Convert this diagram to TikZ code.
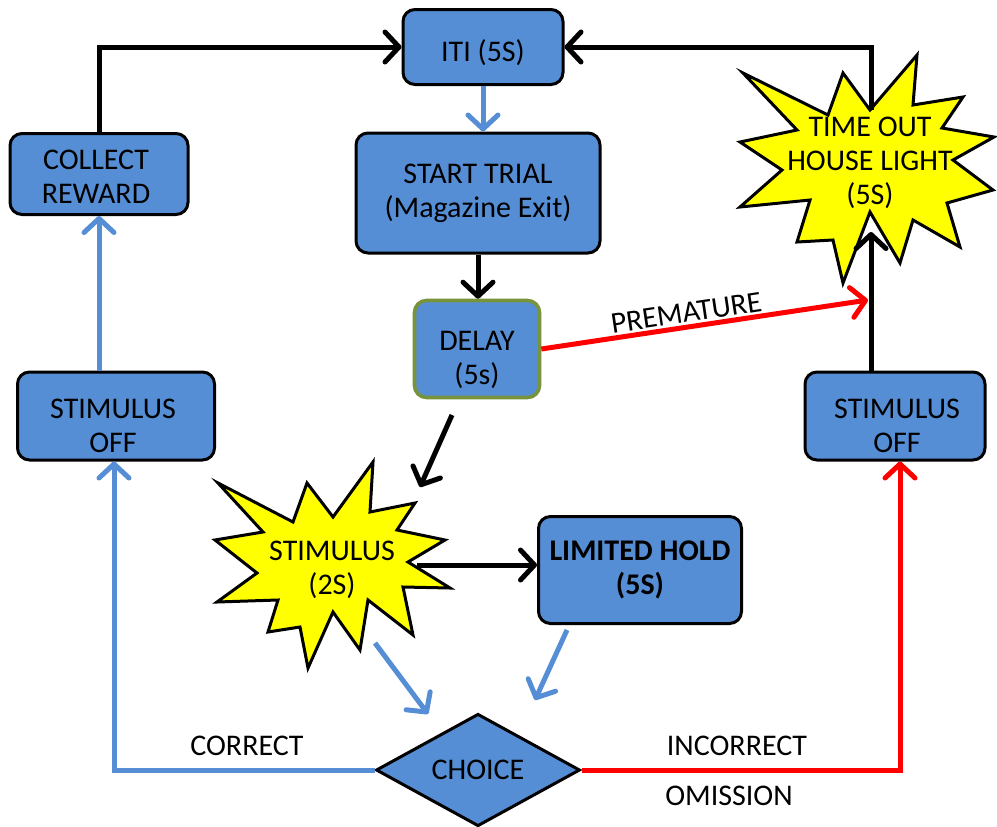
\documentclass[tikz,border=0pt]{standalone}
\usepackage{fontspec}
\setmainfont{Carlito}
\usetikzlibrary{arrows.meta,shapes.geometric}
\definecolor{boxblue}{RGB}{85,142,213}
\definecolor{delaygreen}{RGB}{119,147,60}
\definecolor{flashyellow}{RGB}{255,255,0}
\definecolor{flowred}{RGB}{255,0,0}
\begin{document}
\begin{tikzpicture}[x=0.5pt,y=-0.5pt,
  >={Straight Barb[length=7pt,width=15pt,round]},
  font=\fontsize{15}{17}\selectfont,
  box/.style={draw,line width=1.5pt,fill=boxblue,rounded corners=6pt,align=center,inner sep=0pt},
  boxtext/.style={align=center,inner sep=0pt},
  flash/.style={draw,line width=1.5pt,fill=flashyellow},
  blk/.style={line width=2.5pt,->},
  blu/.style={line width=2.5pt,->,draw=boxblue},
  rd/.style={line width=2.5pt,->,draw=flowred}]
\useasboundingbox (0,0) rectangle (997,826);
% boxes
\node[box,minimum width=80pt,minimum height=37.5pt] (iti) at (483,47) {};
\node[boxtext] (ititext) at (483,53) {ITI (5S)};
\node[box,minimum width=122pt,minimum height=60pt] (start) at (478,193) {START TRIAL\\(Magazine Exit)};
\node[box,minimum width=89pt,minimum height=40.5pt] (collect) at (99,174) {};
\node[boxtext] (collecttext) at (96,177) {COLLECT\\REWARD};
\node[box,draw=delaygreen,line width=1.8pt,minimum width=62.5pt,minimum height=48.5pt] (delay) at (477,349) {};
\node[boxtext] (delaytext) at (477,360) {DELAY\\(5s)};
\node[box,minimum width=98.5pt,minimum height=44pt] (offL) at (116,416) {};
\node[boxtext] (offLtext) at (113,426) {STIMULUS\\OFF};
\node[box,minimum width=90pt,minimum height=44pt] (offR) at (895,416) {};
\node[boxtext] (offRtext) at (897,426) {STIMULUS\\OFF};
\node[box,minimum width=101.5pt,minimum height=53.5pt,font=\fontsize{15}{17}\selectfont\bfseries] (hold) at (640,570) {LIMITED HOLD\\(5S)};
\node[diamond,draw,line width=1.5pt,fill=boxblue,inner sep=0pt,minimum width=102pt,minimum height=56pt] (choice) at (478,770) {CHOICE};
% flashes
\draw[flash] (743,73) -- (828,115) -- (843,73) -- (870,110) -- (917,55) -- (913,105)
  -- (963,97) -- (942,128) -- (994,137) -- (953,160) -- (993,190) -- (947,203)
  -- (960,247) -- (913,220) -- (900,263) -- (870,212) -- (843,283) -- (833,240)
  -- (797,242) -- (810,200) -- (740,207) -- (782,170) -- (740,142) -- (797,130) -- cycle;
\draw[flash] (218,483) -- (293,522) -- (307,483) -- (333,517) -- (373,462) -- (370,512)
  -- (415,503) -- (397,530) -- (445,540) -- (408,562) -- (450,588) -- (403,587)
  -- (413,635) -- (368,600) -- (360,650) -- (333,612) -- (308,668) -- (300,627)
  -- (268,632) -- (278,600) -- (217,602) -- (257,573) -- (215,540) -- (263,532) -- cycle;
\coordinate (toout) at (871,110);
\coordinate (toin) at (871,232);
\coordinate (premend) at (868,300);
\coordinate (d1) at (452,415);
\coordinate (d2) at (420,487);
\coordinate (s1) at (417,565);
\coordinate (s2) at (375,643);
\coordinate (c1) at (428,714);
\coordinate (h1) at (567,630);
\coordinate (c2) at (535,700);
% connectors
\draw[blk] (collect.north) |- (iti.west);
\draw[blk] (toout) |- (iti.east);
\draw[blk] (offR.north -| toin) -- (toin);
\draw[blu] (iti.south) -- (iti.south |- start.north);
\draw[blk] (start.south) -- (start.south |- delay.north);
\draw[rd] (delay.east) -- node[sloped,above,inner sep=1pt,pos=0.45]{PREMATURE} (premend);
\draw[blk] (d1) -- (d2);
\draw[blk] (s1) -- (hold.west |- s1);
\draw[blu] (s2) -- (c1);
\draw[blu] (h1) -- (c2);
\draw[blu] (choice.west) -| ([xshift=-1pt]offL.south);
\draw[rd] (choice.east) -| ([xshift=2.5pt]offR.south);
\draw[blu] (offL.north -| collect.south) -- (collect.south);
% texts
\node[align=center] (timeout) at (870,163) {TIME OUT\\HOUSE LIGHT\\(5S)};
\node[align=center] (stim) at (332,570) {STIMULUS\\(2S)};
\node (correct) at (247,746) {CORRECT};
\node (incorrect) at (737,746) {INCORRECT};
\node (omission) at (729,796) {OMISSION};
\end{tikzpicture}
\end{document}
